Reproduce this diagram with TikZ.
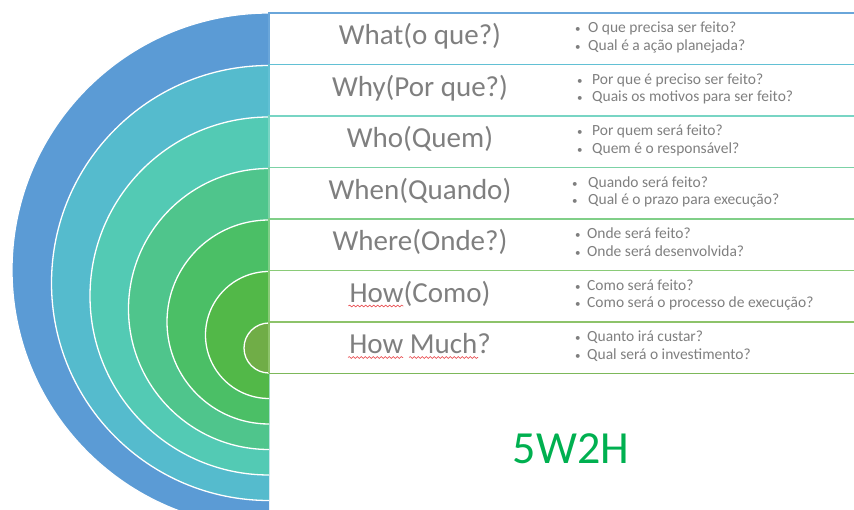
\documentclass[tikz,border=0pt]{standalone}
\usepackage{fontspec}
\setmainfont{Carlito}
\usetikzlibrary{calc, decorations.pathmorphing}

\definecolor{ringA}{HTML}{5B9BD5}
\definecolor{ringB}{HTML}{55BBCD}
\definecolor{ringC}{HTML}{53CAB4}
\definecolor{ringD}{HTML}{4FC58C}
\definecolor{ringE}{HTML}{4BBF66}
\definecolor{ringF}{HTML}{52B848}
\definecolor{ringG}{HTML}{70AD47}
\definecolor{lineA}{HTML}{6AA6DA}
\definecolor{lineB}{HTML}{62C0D4}
\definecolor{lineC}{HTML}{78D5C4}
\definecolor{lineD}{HTML}{7CD2A6}
\definecolor{lineE}{HTML}{80CF88}
\definecolor{lineF}{HTML}{8ACB78}
\definecolor{lineG}{HTML}{8DC36A}
\definecolor{lineH}{HTML}{7DB85A}
\definecolor{headgray}{HTML}{7F7F7F}
\definecolor{titlegreen}{HTML}{00B050}
\definecolor{spellred}{HTML}{E8474B}

\newcommand\qdot[1]{\makebox[#1][l]{\fontsize{11}{11}\selectfont •}}

\begin{document}
\begin{tikzpicture}[x=1pt, y=-1pt,
    ringfill/.style={draw=white, line width=1.3pt},
    rowline/.style={line width=1.6pt},
    head/.style={anchor=base, inner sep=0pt, text=headgray, font=\fontsize{29}{34}\selectfont},
    ask/.style={anchor=base west, inner sep=0pt, align=left, text=headgray, font=\fontsize{15.5}{17.5}\selectfont},
    spell/.style={spellred, line width=0.6pt, decorate, decoration={snake, amplitude=0.9pt, segment length=4pt}}]

        \useasboundingbox (0,0) rectangle (854,510);

        % Half rings

        \begin{scope}
        \clip (0,0) rectangle (269,510);
        \path[ringfill, fill=ringA] (269,270) circle (257);
        \path[ringfill, fill=ringB] (269,283) circle (217.5);
        \path[ringfill, fill=ringC] (269,296) circle (179);
        \path[ringfill, fill=ringD] (269,309) circle (140.5);
        \path[ringfill, fill=ringE] (269,322) circle (102);
        \path[ringfill, fill=ringF] (269,335) circle (63.5);
        \path[ringfill, fill=ringG] (269,348) circle (25);
        \end{scope}

        % Table rows

        \draw[rowline, lineA] (269,64.5) -- (269,13) -- (854,13);
        \draw[rowline, lineB] (269,116) -- (269,64.5) -- (854,64.5);
        \draw[rowline, lineC] (269,167.5) -- (269,116) -- (854,116);
        \draw[rowline, lineD] (269,219) -- (269,167.5) -- (854,167.5);
        \draw[rowline, lineE] (269,270.5) -- (269,219) -- (854,219);
        \draw[rowline, lineF] (269,322) -- (269,270.5) -- (854,270.5);
        \draw[rowline, lineG] (269,373.5) -- (269,322) -- (854,322);
        \draw[rowline, lineH] (269,373.5) -- (854,373.5);

        % Headings

        \node (what)    at (420, 45)    [head] {What(o que?)};
        \node (why)     at (420, 96.5)  [head] {Why(Por que?)};
        \node (who)     at (420, 148)   [head] {Who(Quem)};
        \node (when)    at (420, 199.5) [head] {When(Quando)};
        \node (where)   at (420, 251)   [head] {Where(Onde?)};
        \node (how)     at (420, 302.5) [head] {How(Como)};
        \node (howmuch) at (420, 354)   [head] {How Much?};

        % spell-check marks under How and Much
        \draw[spell] ($(how.base west)+(-1,3.5)$) -- ++(55,0);
        \draw[spell] ($(howmuch.base west)+(-1,3.5)$) -- ++(55,0);
        \draw[spell] ($(howmuch.base west)+(60,3.5)$) -- ++(69,0);

        % Questions (base = second line)

        \node (whatq)    at (575, 50.5)  [ask] {\qdot{13pt}O que precisa ser feito?\\\qdot{13pt}Qual é a ação planejada?};
        \node (whyq)     at (577, 102)   [ask] {\qdot{15pt}Por que é preciso ser feito?\\\qdot{15pt}Quais os motivos para ser feito?};
        \node (whoq)     at (577, 153.5) [ask] {\qdot{15pt}Por quem será feito?\\\qdot{15pt}Quem é o responsável?};
        \node (whenq)    at (572, 205)   [ask] {\qdot{16pt}Quando será feito?\\\qdot{16pt}Qual é o prazo para execução?};
        \node (whereq)   at (575, 256.5) [ask] {\qdot{12pt}Onde será feito?\\\qdot{12pt}Onde será desenvolvida?};
        \node (howq)     at (575, 308)   [ask] {\qdot{12pt}Como será feito?\\\qdot{12pt}Como será o processo de execução?};
        \node (howmuchq) at (575, 359.5) [ask] {\qdot{12pt}Quanto irá custar?\\\qdot{12pt}Qual será o investimento?};

        % Title

        \node (title) at (571, 449) [text=titlegreen, font=\fontsize{46}{50}\selectfont] {5W2H};

\end{tikzpicture}
\end{document}
